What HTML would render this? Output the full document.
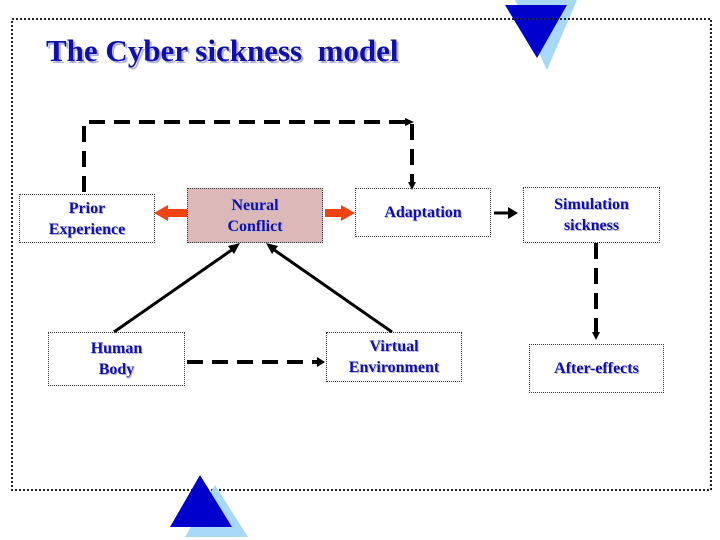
<!DOCTYPE html>
<html><head><style>
body{margin:0;background:#fff;width:720px;height:540px;overflow:hidden;position:relative;font-family:"Liberation Serif",serif}
.b{position:absolute;border:1px dotted #333;box-sizing:border-box;display:flex;align-items:center;justify-content:center;text-align:center;color:#1010a8;font-weight:bold;font-size:16px;line-height:21px;text-shadow:1px 1px 0 #b8b8d8}
</style></head><body>
<svg width="720" height="540" style="position:absolute;left:0;top:0">
<polygon points="515,0 577,0 547,70" fill="#a8d8f8"/>
<polygon points="505,5 567,5 537,58" fill="#0000cc"/>
<rect x="12" y="19" width="699" height="471" fill="none" stroke="#222" stroke-width="2" stroke-dasharray="2,2"/>
<polygon points="215,485 248,537 185,537" fill="#a8d8f8"/>
<polygon points="200,475 232,527 170,527" fill="#0000cc"/>
<g stroke="#000" stroke-width="4" fill="none" stroke-dasharray="16,9">
<path d="M84,192 V122 H412 V182"/>
<path d="M596,243 V332"/>
<path d="M187,362 H318"/>
</g>
<polygon points="405,118 414,122 405,126" fill="#000"/>
<polygon points="408,182 416,182 412,190" fill="#000"/>
<polygon points="592,332 600,332 596,340" fill="#000"/>
<polygon points="317,357 325,362 317,367" fill="#000"/>
<g stroke="#000" stroke-width="3">
<line x1="114" y1="332" x2="236" y2="247"/>
<line x1="392" y1="332" x2="270" y2="247"/>
<line x1="494" y1="213" x2="510" y2="213"/>
</g>
<polygon points="240,243 228,246 234,254" fill="#000"/>
<polygon points="266,243 272,254 278,246" fill="#000"/>
<polygon points="518,213 508,207 508,219" fill="#000"/>
<g fill="#ee4411">
<rect x="166" y="209" width="21" height="8"/><polygon points="154,213 168,205 168,221"/>
<rect x="325" y="209" width="18" height="8"/><polygon points="355,213 341,205 341,221"/>
</g>
</svg>
<div style="position:absolute;left:46px;top:33px;font-size:31px;font-weight:bold;color:#1010a8;text-shadow:2px 2px 0 #b0b0d8;white-space:pre">The Cyber sickness  model</div>
<div class="b" style="left:19px;top:194px;width:136px;height:49px">Prior<br>Experience</div>
<div class="b" style="left:187px;top:188px;width:136px;height:55px;background:#dcb8b8">Neural<br>Conflict</div>
<div class="b" style="left:355px;top:188px;width:136px;height:49px">Adaptation</div>
<div class="b" style="left:523px;top:187px;width:137px;height:56px">Simulation<br>sickness</div>
<div class="b" style="left:48px;top:332px;width:137px;height:54px">Human<br>Body</div>
<div class="b" style="left:326px;top:332px;width:136px;height:50px">Virtual<br>Environment</div>
<div class="b" style="left:529px;top:344px;width:135px;height:49px">After-effects</div>
</body></html>
